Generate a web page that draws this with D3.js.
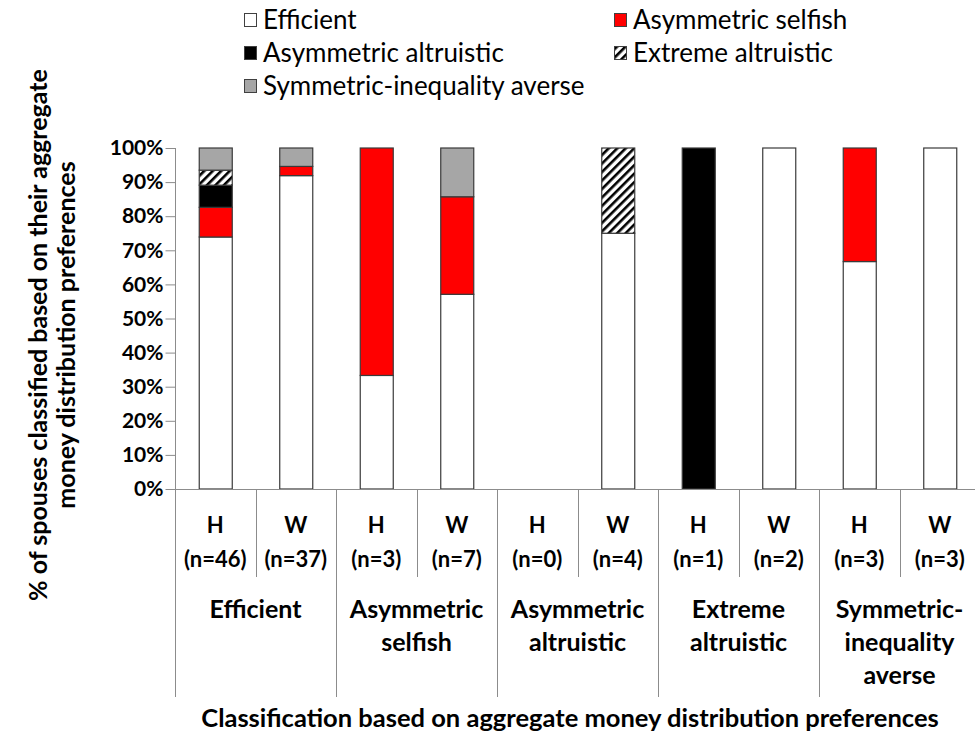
<!DOCTYPE html>
<html>
<head>
<meta charset="utf-8">
<script src="https://cdn.jsdelivr.net/npm/d3@7"></script>
<style>
  html, body { margin: 0; padding: 0; background: #fff; }
  svg { display: block; font-family: Lato, "Open Sans", sans-serif; }
</style>
</head>
<body>
<svg id="chart" width="975" height="738"></svg>
<script>
// ---- data ----
const groups = ["Efficient", "Asymmetric selfish", "Asymmetric altruistic", "Extreme altruistic", "Symmetric-inequality averse"];
const groupLabelLines = [["Efficient"], ["Asymmetric", "selfish"], ["Asymmetric", "altruistic"], ["Extreme", "altruistic"], ["Symmetric-", "inequality", "averse"]];
const spouses = ["H", "W", "H", "W", "H", "W", "H", "W", "H", "W"];
const sampleSizes = [46, 37, 3, 7, 0, 4, 1, 2, 3, 3];
const seriesNames = ["Efficient", "Asymmetric selfish", "Asymmetric altruistic", "Extreme altruistic", "Symmetric-inequality averse"];
const efficient         = [73.9, 91.9, 33.3, 57.1, 0, 75, 0, 100, 66.7, 100];
const asymmetricSelfish = [8.7, 2.7, 66.7, 28.6, 0, 0, 0, 0, 33.3, 0];
const asymmetricAltru   = [6.5, 0, 0, 0, 0, 0, 100, 0, 0, 0];
const extremeAltru      = [4.4, 0, 0, 0, 0, 25, 0, 0, 0, 0];
const symmetricIneq     = [6.5, 5.4, 0, 14.3, 0, 0, 0, 0, 0, 0];
const yTicks = [0, 10, 20, 30, 40, 50, 60, 70, 80, 90, 100];
const yTitleLines = ["% of spouses classified based on their aggregate", "money distribution preferences"];
const xTitle = "Classification based on aggregate money distribution preferences";

// ---- build table ----
const seriesArrays = [efficient, asymmetricSelfish, asymmetricAltru, extremeAltru, symmetricIneq];
const rows = spouses.map((s, i) => {
  const r = { id: i, spouse: s, n: sampleSizes[i], group: Math.floor(i / 2) };
  seriesNames.forEach((k, j) => r[k] = seriesArrays[j][i]);
  return r;
});

const svg = d3.select("#chart");
const defs = svg.append("defs");
const pat = defs.append("pattern")
  .attr("id", "hatch").attr("patternUnits", "userSpaceOnUse")
  .attr("width", 6).attr("height", 6)
  .attr("patternTransform", "rotate(45)");
pat.append("rect").attr("width", 6).attr("height", 6).attr("fill", "#fff");
pat.append("rect").attr("x", 0).attr("width", 2.6).attr("height", 6).attr("fill", "#000");

const fills = {
  "Efficient": "#ffffff",
  "Asymmetric selfish": "#ff0000",
  "Asymmetric altruistic": "#000000",
  "Extreme altruistic": "url(#hatch)",
  "Symmetric-inequality averse": "#a6a6a6"
};

const x0 = 175, x1 = 980, yTop = 148, yBot = 489;
const x = d3.scaleBand().domain(rows.map(d => d.id)).range([x0, x1]).paddingInner(0.59).paddingOuter(0.295);
const y = d3.scaleLinear().domain([0, 100]).range([yBot, yTop]);

// ---- bars ----
const stack = d3.stack().keys(seriesNames)(rows);
const layers = svg.append("g");
stack.forEach(layer => {
  layers.append("g").selectAll("rect")
    .data(layer.filter(d => d[1] - d[0] > 0))
    .join("rect")
    .attr("x", d => x(d.data.id) + 0.5)
    .attr("width", x.bandwidth())
    .attr("y", d => y(d[1]))
    .attr("height", d => y(d[0]) - y(d[1]))
    .attr("fill", fills[layer.key])
    .attr("stroke", "#3a3a3a")
    .attr("stroke-width", 1.2);
});

// ---- y axis ----
const yAxis = d3.axisLeft(y).tickValues(yTicks).tickFormat(d => d + "%").tickSize(10).tickPadding(2);
const yg = svg.append("g").attr("transform", `translate(${x0 + 0.5},0)`).call(yAxis);
yg.select(".domain").attr("stroke", "#8c8c8c").attr("d", `M0,${yTop}V${yBot}`);
yg.selectAll(".tick line").attr("stroke", "#8c8c8c");
yg.selectAll(".tick text").attr("font-size", 21).attr("font-weight", "bold").attr("fill", "#000")
  .attr("font-family", "Lato, sans-serif");

// ---- x axis + category separators ----
const step = x.step();
const xa = svg.append("g").attr("stroke", "#8c8c8c").attr("stroke-width", 1);
xa.append("line").attr("x1", x0).attr("x2", x1).attr("y1", yBot + 0.5).attr("y2", yBot + 0.5);
d3.range(0, rows.length + 1).forEach(i => {
  const xp = Math.round(x0 + i * step) + 0.5;
  const isGroup = i % 2 === 0;
  xa.append("line").attr("x1", xp).attr("x2", xp).attr("y1", yBot).attr("y2", isGroup ? 697 : 577);
});

// sub labels
const lab = svg.append("g").attr("font-weight", "bold").attr("text-anchor", "middle").attr("fill", "#000");
rows.forEach(d => {
  const cx = x(d.id) + x.bandwidth() / 2;
  lab.append("text").attr("x", cx).attr("y", 533).attr("font-size", 22).text(d.spouse);
  lab.append("text").attr("x", cx).attr("y", 567).attr("font-size", 22).text(`(n=${d.n})`);
});
groupLabelLines.forEach((lines, g) => {
  const cx = x0 + (g * 2 + 1) * step;
  lines.forEach((t, k) => lab.append("text").attr("x", cx).attr("y", 618 + k * 33).attr("font-size", 25).text(t));
});

// axis titles
svg.append("text").attr("x", 570).attr("y", 727).attr("text-anchor", "middle")
  .attr("font-weight", "bold").attr("font-size", 25.5).text(xTitle);
const yt = svg.append("g").attr("transform", "translate(0,335) rotate(-90)")
  .attr("font-weight", "bold").attr("font-size", 25).attr("text-anchor", "middle");
yTitleLines.forEach((t, k) => yt.append("text").attr("x", 0).attr("y", 47 + k * 28).text(t));

// ---- legend ----
const legendPos = [[244, 20], [614, 20], [244, 53], [614, 53], [244, 86]];
const lg = svg.append("g").attr("font-size", 26);
seriesNames.forEach((k, i) => {
  const [lx, ly] = legendPos[i];
  lg.append("rect").attr("x", lx + 0.5).attr("y", ly - 6.5).attr("width", 12).attr("height", 13)
    .attr("fill", fills[k]).attr("stroke", "#404040").attr("stroke-width", 1);
  lg.append("text").attr("x", lx + 19).attr("y", ly + 9).text(k);
});
</script>
</body>
</html>
